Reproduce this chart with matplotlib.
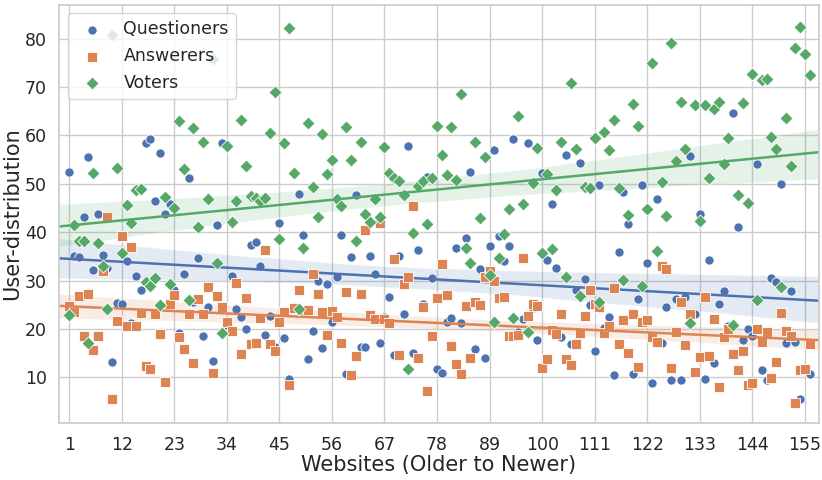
import numpy as np
import matplotlib
matplotlib.use("Agg")
import matplotlib.pyplot as plt
import seaborn as sns

# posição do site (do mais antigo para o mais novo)
websites = list(range(1, 157))

questioners = [
    52.5, 35.1, 34.9, 43.2, 55.5, 32.2, 43.7, 35.3, 32.7, 13.1, 25.3, 25.1,
    34.0, 21.2, 30.9, 28.0, 58.4, 59.3, 46.5, 56.4, 43.8, 45.8, 28.1, 19.1,
    31.3, 51.2, 25.5, 34.7, 18.5, 24.5, 13.4, 41.5, 58.4, 20.8, 31.0, 24.2,
    22.5, 20.1, 37.4, 38.0, 33.1, 18.8, 22.7, 16.3, 41.9, 18.1, 9.6, 24.5,
    47.9, 39.5, 13.9, 19.5, 29.9, 16.1, 29.4, 21.5, 30.7, 39.5, 10.8, 34.8,
    47.6, 16.2, 16.2, 35.0, 31.3, 17.2, 22.4, 26.7, 14.6, 35.0, 23.0, 57.9,
    15.1, 36.3, 25.1, 51.5, 30.5, 11.7, 11.0, 21.5, 22.2, 36.7, 21.2, 38.8,
    52.5, 15.9, 32.3, 14.1, 37.2, 56.9, 39.2, 34.0, 37.2, 59.3, 19.3, 22.0,
    58.5, 24.4, 17.8, 52.3, 34.3, 45.9, 32.6, 18.3, 55.9, 16.8, 28.0, 54.4,
    30.3, 24.9, 15.4, 49.8, 20.3, 22.5, 10.4, 36.0, 48.3, 41.6, 10.7, 26.2,
    49.8, 33.6, 8.9, 46.8, 17.2, 24.5, 9.4, 26.2, 9.4, 26.6, 55.7, 23.1,
    43.8, 9.6, 34.3, 12.9, 25.1, 27.9, 20.6, 64.7, 41.1, 17.8, 20.0, 18.5,
    54.1, 11.5, 9.4, 30.6, 29.8, 50.0, 17.2, 27.8, 17.4, 5.5, 11.5, 10.8,
]

answerers = [
    24.8, 23.6, 26.8, 18.5, 27.3, 15.7, 18.5, 32.0, 43.2, 5.5, 21.6, 39.3,
    20.6, 37.0, 20.6, 23.4, 12.3, 11.8, 23.2, 18.9, 9.1, 25.2, 27.0, 18.3,
    15.9, 23.2, 12.9, 26.2, 23.0, 28.7, 11.0, 26.9, 24.5, 21.5, 19.5, 29.6,
    14.8, 26.4, 16.8, 17.1, 22.2, 36.3, 17.0, 15.4, 21.5, 23.5, 8.5, 24.3,
    28.0, 24.0, 24.0, 31.3, 27.2, 23.5, 18.7, 23.7, 22.5, 17.2, 27.7, 10.5,
    14.4, 27.2, 40.5, 22.8, 22.0, 41.9, 22.0, 21.2, 34.4, 14.6, 29.4, 30.7,
    45.5, 14.1, 24.5, 7.2, 18.5, 26.4, 33.4, 27.1, 16.4, 12.7, 10.6, 24.7,
    14.1, 25.5, 24.9, 30.7, 31.9, 30.0, 26.4, 26.6, 18.6, 18.6, 18.8, 34.6,
    22.6, 25.2, 24.7, 11.9, 13.9, 19.7, 18.9, 23.2, 13.7, 12.5, 16.8, 19.1,
    22.6, 28.0, 25.2, 24.5, 19.1, 20.6, 28.4, 16.8, 21.8, 15.1, 23.2, 12.2,
    21.5, 21.8, 18.3, 17.4, 33.0, 32.5, 11.9, 19.3, 25.5, 16.6, 23.2, 11.2,
    14.2, 26.6, 14.5, 22.1, 8.0, 18.3, 19.9, 14.8, 11.5, 15.4, 8.5, 8.9,
    20.1, 17.4, 19.3, 9.8, 13.1, 23.3, 19.5, 18.5, 4.8, 11.5, 11.8, 16.8,
]

voters = [
    22.8, 41.5, 38.2, 38.2, 17.2, 52.2, 37.8, 33.0, 24.2, 80.7, 53.2, 35.7,
    45.6, 41.9, 48.7, 49.0, 29.7, 28.9, 30.5, 24.9, 47.3, 29.3, 45.1, 62.9,
    53.0, 25.9, 61.6, 41.1, 58.7, 46.9, 75.8, 33.6, 19.1, 57.8, 42.1, 46.5,
    63.1, 53.7, 47.5, 47.0, 46.5, 47.0, 60.5, 68.9, 38.5, 58.5, 82.2, 52.3,
    24.2, 36.8, 62.5, 49.4, 43.1, 60.4, 52.0, 55.0, 46.9, 45.5, 61.8, 54.9,
    38.2, 58.6, 43.8, 42.2, 46.9, 43.1, 57.7, 52.3, 51.2, 50.5, 47.7, 11.7,
    39.9, 49.6, 50.6, 41.7, 51.2, 62.0, 56.0, 51.9, 61.8, 50.8, 68.5, 36.7,
    33.6, 58.7, 42.9, 55.6, 31.1, 21.5, 34.7, 39.7, 44.8, 22.3, 64.1, 45.9,
    19.3, 50.2, 57.5, 35.8, 52.0, 36.5, 48.8, 58.7, 30.7, 70.8, 57.3, 26.9,
    49.3, 49.1, 59.5, 25.5, 60.8, 56.9, 63.2, 49.2, 30.1, 43.6, 66.5, 62.0,
    28.9, 44.8, 74.9, 36.1, 50.3, 43.4, 79.2, 54.7, 67.0, 57.3, 21.3, 66.2,
    42.4, 66.2, 51.2, 65.5, 67.0, 54.2, 59.4, 20.8, 47.6, 66.8, 46.0, 72.8,
    26.0, 71.4, 71.6, 59.6, 57.3, 28.6, 63.7, 53.7, 78.0, 82.4, 76.8, 72.4,
]

series_names = ["Questioners", "Answerers", "Voters"]
markers = ["o", "s", "D"]
x_ticks = list(range(1, 157, 11))

sns.set_theme(style="whitegrid", font_scale=1.1)
cores = sns.color_palette("deep")

fig, ax = plt.subplots(figsize=(8.22, 4.8), dpi=100)
fig.subplots_adjust(left=0.072, right=0.996, top=0.99, bottom=0.118)

ax.set_xlim(-1.1, 157.9)
ax.set_ylim(0.5, 87.0)

x = np.array(websites)
for nome, y, m, c in zip(series_names, [questioners, answerers, voters], markers, cores):
    ax.scatter(x, y, marker=m, s=44, color=c, edgecolor="white",
               linewidth=0.6, label=nome, zorder=2)
    # reta de regressão com intervalo de confiança (estende até as bordas)
    sns.regplot(x=x, y=np.array(y), ax=ax, scatter=False, truncate=False,
                color=c, seed=0, line_kws={"linewidth": 1.8})

ax.set_xticks(x_ticks)
ax.set_xlim(-1.1, 157.9)
ax.set_ylim(0.5, 87.0)
ax.tick_params(axis="both", pad=3, labelsize=12.5)
ax.set_xlabel("Websites (Older to Newer)", fontsize=15, labelpad=1)
ax.set_ylabel("User-distribution", fontsize=15, labelpad=2)
ax.legend(loc="upper left", fontsize=12.5)

fig.savefig("out.png", dpi=100)
